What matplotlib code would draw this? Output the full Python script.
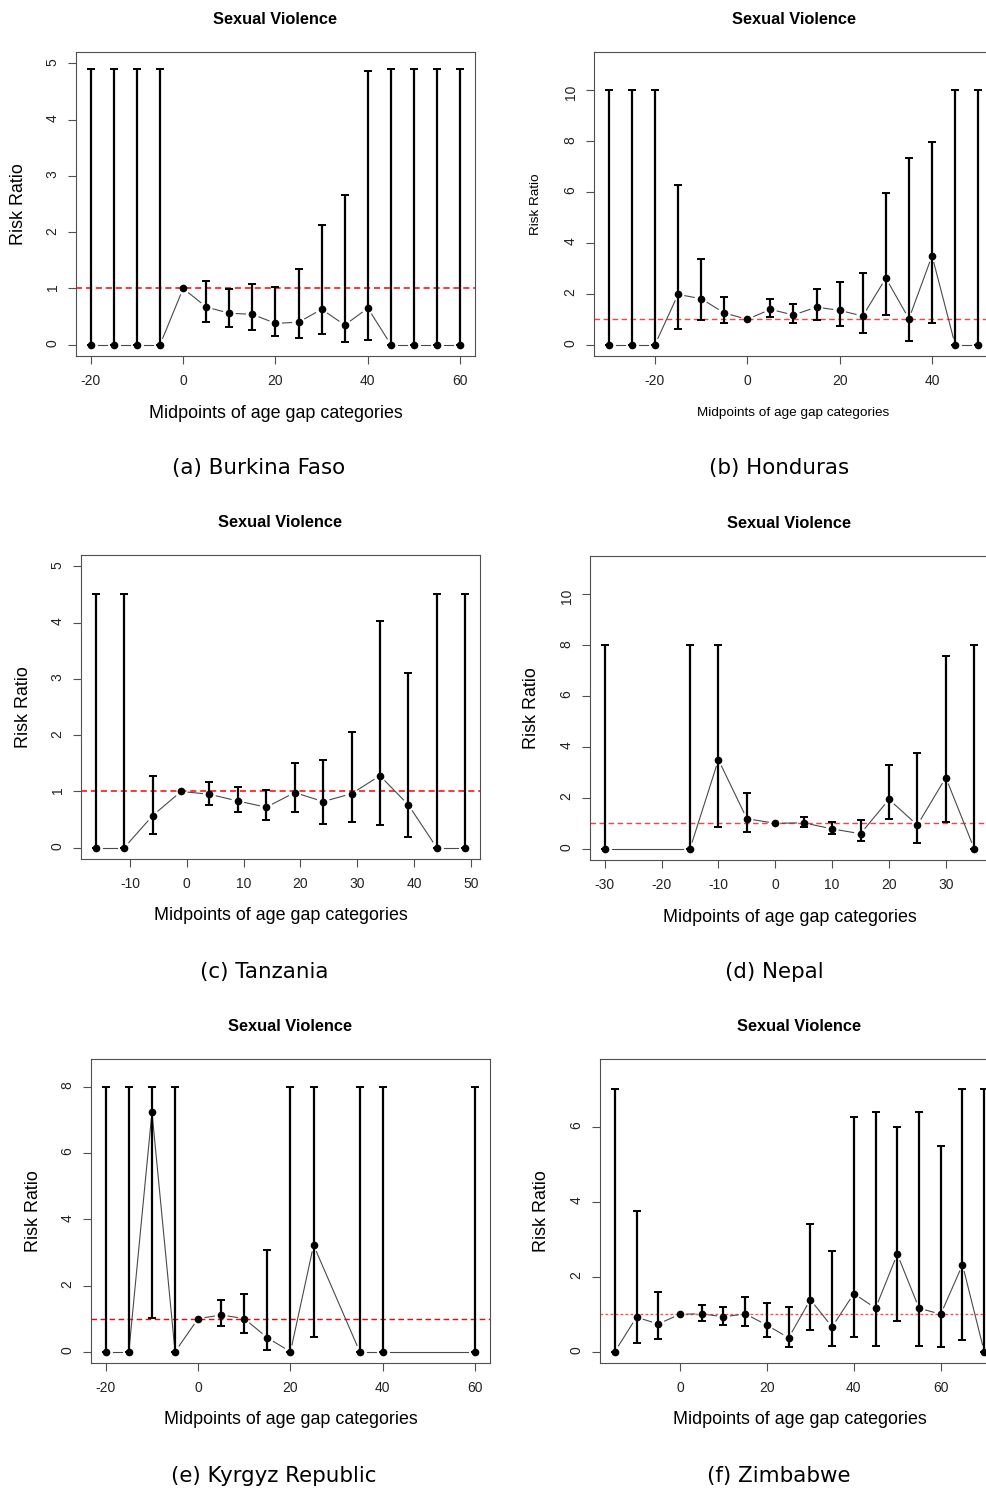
import numpy as np
import matplotlib.pyplot as plt

plt.rcParams['font.family'] = ['Liberation Sans', 'DejaVu Sans']
plt.rcParams['axes.unicode_minus'] = False

nan = np.nan

# (a) Burkina Faso
bf_mid = [-20, -15, -10, -5, 0, 5, 10, 15, 20, 25, 30, 35, 40, 45, 50, 55, 60]
bf_rr = [0, 0, 0, 0, 1, 0.67, 0.56, 0.54, 0.38, 0.40, 0.63, 0.35, 0.65, 0, 0, 0, 0]
bf_lo = [0, 0, 0, 0, nan, 0.40, 0.32, 0.27, 0.15, 0.12, 0.19, 0.05, 0.09, 0, 0, 0, 0]
bf_hi = [4.9, 4.9, 4.9, 4.9, nan, 1.14, 0.99, 1.08, 1.02, 1.35, 2.12, 2.66, 4.87, 4.9, 4.9, 4.9, 4.9]

# (b) Honduras
hn_mid = [-30, -25, -20, -15, -10, -5, 0, 5, 10, 15, 20, 25, 30, 35, 40, 45, 50]
hn_rr = [0, 0, 0, 1.98, 1.81, 1.25, 1, 1.39, 1.17, 1.48, 1.35, 1.13, 2.62, 1.02, 3.50, 0, 0]
hn_lo = [0, 0, 0, 0.62, 0.96, 0.84, nan, 1.08, 0.85, 0.98, 0.73, 0.46, 1.15, 0.13, 0.85, 0, 0]
hn_hi = [10, 10, 10, 6.27, 3.37, 1.89, nan, 1.78, 1.61, 2.20, 2.47, 2.81, 5.98, 7.36, 7.98, 10, 10]

# (c) Tanzania
tz_mid = [-16, -11, -6, -1, 4, 9, 14, 19, 24, 29, 34, 39, 44, 49]
tz_rr = [0, 0, 0.57, 1, 0.95, 0.83, 0.72, 0.98, 0.82, 0.96, 1.28, 0.76, 0, 0]
tz_lo = [0, 0, 0.25, nan, 0.76, 0.64, 0.50, 0.63, 0.43, 0.45, 0.41, 0.19, 0, 0]
tz_hi = [4.5, 4.5, 1.28, nan, 1.17, 1.08, 1.02, 1.51, 1.56, 2.06, 4.02, 3.10, 4.5, 4.5]

# (d) Nepal
np_mid = [-30, -15, -10, -5, 0, 5, 10, 15, 20, 25, 30, 35]
np_rr = [0, 0, 3.50, 1.18, 1, 1.02, 0.78, 0.59, 1.94, 0.93, 2.80, 0]
np_lo = [0, 0, 0.87, 0.64, nan, 0.84, 0.59, 0.30, 1.16, 0.24, 1.04, 0]
np_hi = [8, 8, 8, 2.18, nan, 1.26, 1.05, 1.14, 3.30, 3.76, 7.57, 8]

# (e) Kyrgyz Republic
kg_mid = [-20, -15, -10, -5, 0, 5, 10, 15, 20, 25, 35, 40, 60]
kg_rr = [0, 0, 7.24, 0, 1, 1.11, 1.0, 0.42, 0, 3.22, 0, 0, 0]
kg_lo = [0, 0, 1.01, 0, nan, 0.78, 0.56, 0.06, 0, 0.45, 0, 0, 0]
kg_hi = [8, 8, 8, 8, nan, 1.57, 1.75, 3.08, 8, 8, 8, 8, 8]

# (f) Zimbabwe
zw_mid = [-15, -10, -5, 0, 5, 10, 15, 20, 25, 30, 35, 40, 45, 50, 55, 60, 65, 70]
zw_rr = [0, 0.92, 0.74, 1, 1.01, 0.93, 1.01, 0.71, 0.37, 1.39, 0.66, 1.55, 1.16, 2.60, 1.16, 1.0, 2.32, 0]
zw_lo = [0, 0.23, 0.35, nan, 0.81, 0.72, 0.69, 0.40, 0.12, 0.57, 0.16, 0.38, 0.15, 0.83, 0.15, 0.13, 0.32, 0]
zw_hi = [7, 3.75, 1.59, nan, 1.24, 1.19, 1.45, 1.29, 1.19, 3.40, 2.68, 6.26, 6.40, 6.0, 6.40, 5.49, 7.0, 7]

captions = ['(a) Burkina Faso', '(b) Honduras', '(c) Tanzania',
            '(d) Nepal', '(e) Kyrgyz Republic', '(f) Zimbabwe']
y_tops = [5, 11.07, 5, 11.07, 8.5, 7.5]
x_ticks = [[-20, 0, 20, 40, 60], [-20, 0, 20, 40], [-10, 0, 10, 20, 30, 40, 50],
           [-30, -20, -10, 0, 10, 20, 30], [-20, 0, 20, 40, 60], [0, 20, 40, 60]]
y_ticks = [[0, 1, 2, 3, 4, 5], [0, 2, 4, 6, 8, 10], [0, 1, 2, 3, 4, 5],
           [0, 2, 4, 6, 8, 10], [0, 2, 4, 6, 8], [0, 2, 4, 6]]

panels = [(bf_mid, bf_rr, bf_lo, bf_hi), (hn_mid, hn_rr, hn_lo, hn_hi),
          (tz_mid, tz_rr, tz_lo, tz_hi), (np_mid, np_rr, np_lo, np_hi),
          (kg_mid, kg_rr, kg_lo, kg_hi), (zw_mid, zw_rr, zw_lo, zw_hi)]

# layout in pixels of the 987x1492 canvas
W, H = 987, 1492
ax_left = [76, 594, 81, 590, 91, 600]
ax_top = [52, 52, 555, 556, 1059, 1059]
ax_w, ax_h = 399, 304
cap_xy = [(259, 468), (779, 468), (264, 972), (774, 972), (274, 1476), (779, 1476)]
label_size = [12.9, 9.7, 12.9, 12.9, 12.9, 12.9]
ref_style = [dict(color='red', ls=(0, (4, 2.5)), lw=1.1),
             dict(color='#ff4040', ls=(0, (4, 2.5)), lw=1.0),
             dict(color='red', ls=(0, (4, 2.5)), lw=1.1),
             dict(color='#ff4040', ls=(0, (4, 2.5)), lw=1.0),
             dict(color='red', ls=(0, (4, 2.5)), lw=1.0),
             dict(color='#ff5050', ls=(0, (2, 1.6)), lw=1.0)]

AXC = '#505050'


def gapped_line(ax, x, y, gap=7):
    """R type='b' style: segments between points, cut back near each point."""
    pts = ax.transData.transform(np.column_stack([x, y]))
    inv = ax.transData.inverted()
    for p0, p1 in zip(pts[:-1], pts[1:]):
        d = p1 - p0
        n = np.hypot(*d)
        if n <= 2 * gap:
            continue
        u = d / n
        seg = inv.transform(np.array([p0 + u * gap, p1 - u * gap]))
        ax.plot(seg[:, 0], seg[:, 1], color='#4a4a4a', lw=0.8, zorder=2)


fig = plt.figure(figsize=(W / 100, H / 100), dpi=100)

for i, (mid, rr, lo, hi) in enumerate(panels):
    mid = np.array(mid, float)
    rr = np.array(rr, float)
    lo = np.array(lo, float)
    hi = np.array(hi, float)

    ax = fig.add_axes([ax_left[i] / W, 1 - (ax_top[i] + ax_h) / H, ax_w / W, ax_h / H])
    xr = mid.max() - mid.min()
    ax.set_xlim(mid.min() - 0.04 * xr, mid.max() + 0.04 * xr)
    ax.set_ylim(-0.04 * y_tops[i], 1.04 * y_tops[i])

    ax.axhline(1, zorder=1, **ref_style[i])

    ok = ~np.isnan(lo)
    ax.errorbar(mid[ok], rr[ok], yerr=[rr[ok] - lo[ok], hi[ok] - rr[ok]], fmt='none',
                ecolor='black', elinewidth=1.6, capsize=3, capthick=1.4, zorder=3)
    gapped_line(ax, mid, rr)
    ax.plot(mid, rr, 'o', color='black', ms=4.5, zorder=4)

    ax.set_xticks(x_ticks[i])
    ax.set_yticks(y_ticks[i])
    ax.tick_params(direction='out', length=5.8, width=0.8, color=AXC,
                   labelsize=10, labelcolor='#222222', pad=7)
    ax.tick_params(axis='y', labelrotation=90, pad=6)
    for s in ax.spines.values():
        s.set_color(AXC)
        s.set_linewidth(0.8)

    ax.set_title('Sexual Violence', fontweight='bold', fontsize=11.8, pad=20)
    ax.set_xlabel('Midpoints of age gap categories', fontsize=label_size[i], va='center')
    ax.xaxis.set_label_coords(0.5, -57 / ax_h)
    ax.set_ylabel('Risk Ratio', fontsize=label_size[i], va='center')
    ax.yaxis.set_label_coords(-58 / ax_w, 0.5)

    cx, cy = cap_xy[i]
    fig.text(cx / W, 1 - cy / H, captions[i], ha='center', va='center',
             fontsize=15.4, family='DejaVu Sans')

fig.savefig('out.png', dpi=100)
